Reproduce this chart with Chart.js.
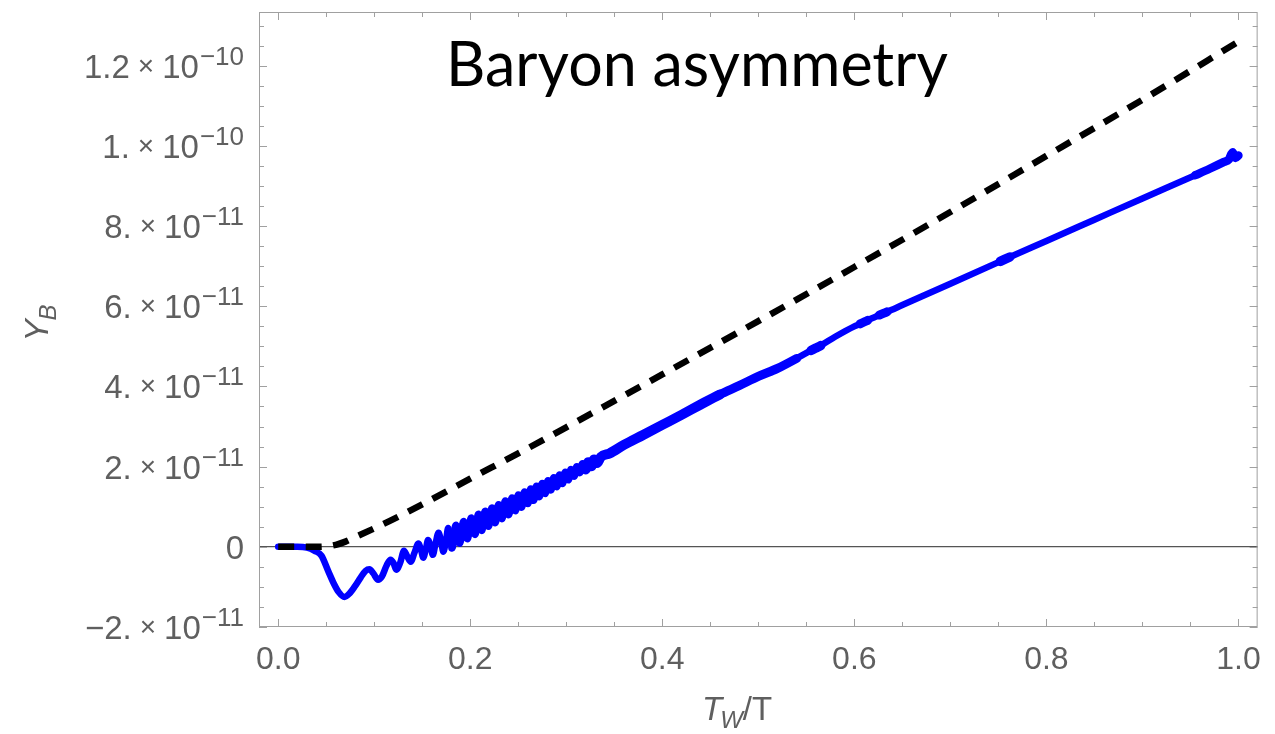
<!DOCTYPE html>
<html>
<head>
<meta charset="utf-8">
<script src="https://cdn.jsdelivr.net/npm/chart.js@4.4.1/dist/chart.umd.min.js"></script>
<style>
  html, body { margin: 0; padding: 0; background: #fff; }
  #wrap { width: 1275px; height: 734px; position: relative; }
</style>
</head>
<body>
<div id="wrap"><canvas id="plot"></canvas></div>
<script>
// Y_B values are in units of 1e-11
const washoutX = [0, 0.02, 0.04, 0.05, 0.06, 0.07, 0.08, 0.1, 0.12, 0.15, 0.2, 0.25, 0.3, 0.4, 0.5, 0.6, 0.7, 0.8, 0.9, 1.0];
const washoutY = [0, 0, 0, 0.01, 0.05, 0.13, 0.24, 0.46, 0.69, 1.06, 1.7, 2.33, 2.98, 4.3, 5.63, 6.98, 8.35, 9.75, 11.15, 12.6];

const yieldX = [
  0, 0.01, 0.02, 0.03, 0.038, 0.045, 0.052, 0.058, 0.063, 0.069, 0.074, 0.08, 0.086, 0.091, 0.095,
  0.099, 0.104, 0.108, 0.113, 0.117, 0.12, 0.123, 0.127, 0.131, 0.134, 0.138, 0.142, 0.146, 0.149,
  0.151, 0.154, 0.156, 0.159, 0.161, 0.164, 0.167, 0.170, 0.172, 0.175, 0.177, 0.179, 0.181,
  0.185, 0.189, 0.193, 0.197, 0.201, 0.205, 0.2085, 0.212, 0.2155, 0.219, 0.2225, 0.226, 0.2295,
  0.233, 0.2365, 0.240, 0.2435, 0.247, 0.250, 0.2535, 0.2565, 0.260, 0.263, 0.266, 0.269, 0.272,
  0.275, 0.278, 0.281, 0.284, 0.287, 0.290, 0.293, 0.296, 0.299, 0.302, 0.305, 0.308, 0.311,
  0.314, 0.317, 0.320, 0.323, 0.326, 0.329, 0.332, 0.336, 0.345, 0.36, 0.38, 0.40, 0.42, 0.44,
  0.46, 0.48, 0.50, 0.52, 0.54, 0.555, 0.56, 0.565, 0.58, 0.60, 0.606, 0.614, 0.626, 0.634,
  0.65, 0.70, 0.752, 0.762, 0.80, 0.85, 0.9, 0.955, 0.97, 0.985, 0.99, 0.994, 0.997, 1.0
];
const yieldY = [
  0, 0, 0, -0.02, -0.1, -0.22, -0.6, -0.92, -1.13, -1.25, -1.17, -0.98, -0.76, -0.6, -0.56,
  -0.66, -0.82, -0.74, -0.46, -0.32, -0.4, -0.57, -0.4, -0.1, -0.22, -0.37, -0.14, 0.08, -0.1,
  -0.27, -0.03, 0.17, -0.02, -0.2, 0.1, 0.35, 0.08, -0.12, 0.2, 0.47, 0.2, -0.03,
  0.54, 0.09, 0.63, 0.20, 0.72, 0.31, 0.81, 0.41, 0.89, 0.51, 0.97, 0.60, 1.05,
  0.70, 1.14, 0.80, 1.22, 0.90, 1.29, 0.99, 1.37, 1.08, 1.44, 1.16, 1.51, 1.25,
  1.58, 1.33, 1.65, 1.42, 1.72, 1.50, 1.79, 1.58, 1.86, 1.67, 1.93, 1.76, 2.0,
  1.85, 2.07, 1.93, 2.11, 2.01, 2.18, 2.09, 2.24, 2.33, 2.54, 2.79, 3.04, 3.29, 3.55,
  3.8, 4.02, 4.25, 4.45, 4.7, 4.9, 4.96, 5.02, 5.24, 5.5, 5.56, 5.65, 5.78, 5.86,
  6.03, 6.56, 7.12, 7.23, 7.63, 8.16, 8.69, 9.27, 9.43, 9.6, 9.66, 9.84, 9.7, 9.76
];

const xTickValues = [0, 0.2, 0.4, 0.6, 0.8, 1.0];
const xMinorTicks = [0.05, 0.1, 0.15, 0.25, 0.3, 0.35, 0.45, 0.5, 0.55, 0.65, 0.7, 0.75, 0.85, 0.9, 0.95];
const yTickValues = [-2, 0, 2, 4, 6, 8, 10, 12];
const yMinorTicks = [-1.5, -1, -0.5, 0.5, 1, 1.5, 2.5, 3, 3.5, 4.5, 5, 5.5, 6.5, 7, 7.5, 8.5, 9, 9.5, 10.5, 11, 11.5, 12.5, 13];
const yTickMantissa = ['\u22122.', '0', '2.', '4.', '6.', '8.', '1.', '1.2'];
const yTickExponent = ['\u221211', '', '\u221211', '\u221211', '\u221211', '\u221211', '\u221210', '\u221210'];

const labelGray = '#5f5f5f';
const frameGray = '#a0a0a0';

// stretches where the numerical curve is noisy and looks thicker
const fuzzyRanges = [
  [0.18, 0.32, 7.5],
  [0.32, 0.46, 10],
  [0.46, 0.54, 9],
  [0.555, 0.565, 9.5],
  [0.606, 0.614, 9],
  [0.626, 0.634, 9],
  [0.752, 0.762, 9.5],
  [0.955, 1.0, 8.5],
];

const toPoints = (xs, ys) => xs.map((x, i) => ({ x: x, y: ys[i] }));

const frameTicks = {
  id: 'frameTicks',
  beforeDatasetsDraw(chart) {
    const { ctx, chartArea: a, scales: { x, y } } = chart;
    ctx.save();
    ctx.strokeStyle = frameGray;
    ctx.lineWidth = 1;
    ctx.strokeRect(a.left + 0.5, a.top + 0.5, a.right - a.left - 1, a.bottom - a.top - 1);
    ctx.beginPath();
    const xTick = (v, len) => {
      const px = Math.round(x.getPixelForValue(v)) + 0.5;
      ctx.moveTo(px, a.bottom); ctx.lineTo(px, a.bottom - len);
      ctx.moveTo(px, a.top); ctx.lineTo(px, a.top + len);
    };
    const yTick = (v, len) => {
      const py = Math.round(y.getPixelForValue(v)) + 0.5;
      ctx.moveTo(a.left, py); ctx.lineTo(a.left + len, py);
      ctx.moveTo(a.right, py); ctx.lineTo(a.right - len, py);
    };
    xTickValues.forEach(v => xTick(v, 8));
    xMinorTicks.forEach(v => xTick(v, 5));
    yTickValues.forEach(v => yTick(v, 8));
    yMinorTicks.forEach(v => yTick(v, 5));
    ctx.stroke();
    ctx.restore();
  },
  afterDraw(chart) {
    const { ctx, chartArea: a, scales: { y } } = chart;
    ctx.save();
    ctx.fillStyle = labelGray;
    ctx.textAlign = 'right';
    ctx.textBaseline = 'alphabetic';
    // y tick labels, Mathematica style  m.×10^e
    yTickValues.forEach((v, i) => {
      const py = y.getPixelForValue(v);
      let right = a.left - 15;
      const exp = yTickExponent[i];
      if (exp) {
        ctx.font = '26px "Liberation Sans", Arial, sans-serif';
        ctx.fillText(exp, right, py - 1);
        right -= ctx.measureText(exp).width + 1;
        ctx.font = '33px "Liberation Sans", Arial, sans-serif';
        ctx.fillText('10', right, py + 12);
        right -= ctx.measureText('10').width + 8;
        ctx.font = '28px "Liberation Sans", Arial, sans-serif';
        ctx.fillText('\u00d7', right, py + 9);
        right -= ctx.measureText('\u00d7').width + 8;
      }
      ctx.font = '33px "Liberation Sans", Arial, sans-serif';
      ctx.fillText(yTickMantissa[i], right, py + 12);
    });

    // y axis title: Y_B (rotated)
    ctx.save();
    ctx.translate(48, (a.top + a.bottom) / 2 + 22);
    ctx.rotate(-Math.PI / 2);
    ctx.textAlign = 'left';
    ctx.font = 'italic 33px "Liberation Sans", Arial, sans-serif';
    ctx.fillText('Y', 0, 0);
    const yw = ctx.measureText('Y').width;
    ctx.font = 'italic 24px "Liberation Sans", Arial, sans-serif';
    ctx.fillText('B', yw - 1, 8);
    ctx.restore();

    // x axis title: T_W/T
    ctx.textAlign = 'left';
    let tx = 702;
    const ty = 720;
    ctx.font = 'italic 33px "Liberation Sans", Arial, sans-serif';
    ctx.fillText('T', tx, ty);
    tx += ctx.measureText('T').width - 2;
    ctx.font = 'italic 24px "Liberation Sans", Arial, sans-serif';
    ctx.fillText('W', tx, ty + 8);
    tx += ctx.measureText('W').width;
    ctx.font = '33px "Liberation Sans", Arial, sans-serif';
    ctx.fillText('/T', tx, ty);

    // overlaid title
    ctx.fillStyle = '#000';
    ctx.textAlign = 'center';
    ctx.font = '100px Lato, "Open Sans", sans-serif';
    const w = ctx.measureText('Baryon asymmetry').width;
    const size = Math.round(100 * 505 / w);
    ctx.font = size + 'px Lato, "Open Sans", sans-serif';
    ctx.fillText('Baryon asymmetry', 697, 86);
    ctx.restore();
  }
};

new Chart(document.getElementById('plot'), {
  type: 'line',
  data: {
    datasets: [
      {
        label: 'washout-free',
        data: toPoints(washoutX, washoutY),
        borderColor: '#000000',
        borderWidth: 6.5,
        borderDash: [16, 11.5],
        borderCapStyle: 'butt',
        pointRadius: 0,
        cubicInterpolationMode: 'monotone',
        fill: false,
      },
      {
        label: 'Y_B',
        data: toPoints(yieldX, yieldY),
        borderColor: '#0000ff',
        borderWidth: 6.5,
        borderCapStyle: 'round',
        borderJoinStyle: 'round',
        pointRadius: 0,
        cubicInterpolationMode: 'monotone',
        fill: false,
        segment: {
          borderWidth: (c) => {
            const x0 = c.p0.parsed.x;
            const r = fuzzyRanges.find(([lo, hi]) => x0 >= lo && x0 < hi);
            return r ? r[2] : 6.5;
          },
        },
      },
    ],
  },
  options: {
    responsive: true,
    maintainAspectRatio: false,
    animation: false,
    events: [],
    layout: { padding: { top: 12, right: 17, bottom: 0, left: 0 } },
    plugins: {
      legend: { display: false },
      tooltip: { enabled: false },
      title: { display: false },
    },
    scales: {
      x: {
        type: 'linear',
        min: -0.02,
        max: 1.02,
        afterBuildTicks: (scale) => { scale.ticks = xTickValues.map(v => ({ value: v })); },
        afterFit: (scale) => { scale.height = 107; },
        grid: { display: false, drawTicks: false },
        border: { display: false },
        ticks: {
          padding: 14,
          color: labelGray,
          font: { family: '"Liberation Sans", Arial, sans-serif', size: 32 },
          maxRotation: 0,
          callback: (v) => Number(v).toFixed(1),
        },
      },
      y: {
        type: 'linear',
        min: -2,
        max: 13.34,
        afterBuildTicks: (scale) => { scale.ticks = yTickValues.map(v => ({ value: v })); },
        afterFit: (scale) => { scale.width = 259; },
        grid: {
          drawTicks: false,
          lineWidth: 1.3,
          color: (c) => (c.tick && c.tick.value === 0 ? '#555555' : 'rgba(0,0,0,0)'),
        },
        border: { display: false },
        ticks: { display: false },
      },
    },
  },
  plugins: [frameTicks],
});
</script>
</body>
</html>
